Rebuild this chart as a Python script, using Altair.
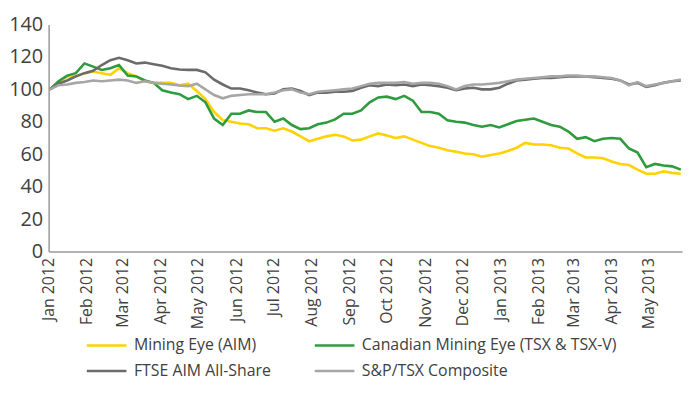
import altair as alt
import pandas as pd

series_names = ["Mining Eye (AIM)", "Canadian Mining Eye (TSX & TSX-V)",
                "FTSE AIM All-Share", "S&P/TSX Composite"]
series_colors = ["#FFD200", "#2E9B3E", "#6B6B6B", "#A6A6A6"]

weeks = pd.date_range("2012-01-02", periods=74, freq="7D")

mining_eye = [100, 104, 108, 108, 110, 111, 110, 109, 113, 110,
              108, 105, 104, 104, 104, 102.5, 103.5, 99, 94, 86,
              81, 80, 79, 78.5, 76, 76, 74.5, 76, 74, 71,
              68, 69.5, 71, 72, 71, 68.5, 69, 71, 72.8, 71.5,
              70, 71, 69, 67, 65, 64, 62.5, 61.5, 60.4, 60,
              58.5, 59.5, 60.4, 62, 64, 67, 66, 66, 65.5, 64,
              63.5, 60.5, 58, 58, 57.5, 55.5, 54, 53.3, 50.5, 48,
              48, 49.4, 48.5, 48]

canadian_eye = [100, 105, 108.5, 110, 116, 114, 112, 113, 115, 108.5,
                108, 105.5, 104, 99.4, 98, 97, 94, 96, 92, 82,
                78, 85, 85, 87, 86, 86, 80, 82, 78, 75.5,
                76, 78.5, 79.5, 81.5, 85, 85, 87, 92, 95, 95.5,
                94, 96, 93, 86, 86, 85, 81, 80, 79.5, 78,
                77, 78, 76.5, 78.5, 80.5, 81.3, 82, 80, 78, 77,
                74, 69.5, 70.5, 68, 69.5, 70, 69.5, 63.5, 61, 52,
                54, 53, 52.5, 50.5]

ftse_aim = [100, 103.5, 105.5, 108, 110, 111.5, 115, 118, 119.5, 118,
            116, 116.5, 115.5, 114.5, 113, 112.2, 112, 112, 110.5, 106,
            103, 100.5, 100.5, 99.4, 98, 97, 97.5, 100, 100.5, 99,
            96.5, 98, 98, 98.5, 98.5, 99, 101, 102.5, 102, 103,
            102.5, 103, 102, 103, 102.5, 102, 101, 99.5, 100.5, 101,
            100, 100, 101, 103.5, 105.5, 106, 106.5, 107, 107, 107.5,
            108, 108, 108, 107.5, 107, 106.5, 105.5, 103, 104, 101.5,
            102.5, 104, 105, 105.5]

sp_tsx = [100, 102.5, 103, 104, 104.5, 105.5, 105, 105.5, 106, 105.5,
          104, 105, 104, 103.5, 103, 102.4, 102, 103.5, 100, 96.5,
          94.5, 96, 96.5, 97, 97, 97, 98, 99.5, 100, 98,
          97, 98.5, 99, 99.5, 100, 100.5, 102, 103.5, 104, 104,
          104, 104.5, 103.5, 104, 104, 103.5, 102, 100, 102, 103,
          103, 103.5, 104, 105, 106, 106.5, 107, 107.5, 108, 108,
          108.5, 108.5, 108, 108, 107.5, 107, 105.5, 102.5, 104.5, 102,
          103, 104, 105, 106]

y_ticks = [0, 20, 40, 60, 80, 100, 120, 140]

rows = []
for name, vals in zip(series_names, [mining_eye, canadian_eye, ftse_aim, sp_tsx]):
    for d, v in zip(weeks, vals):
        rows.append({"date": d, "value": v, "series": name})
df = pd.DataFrame(rows)

FONT = "Open Sans"
TXT = "#404040"

chart = alt.Chart(df).mark_line(strokeWidth=2.6, interpolate="linear").encode(
    x=alt.X("date:T",
            scale=alt.Scale(domain=["2012-01-01T00:00:00", "2013-05-28T00:00:00"]),
            axis=alt.Axis(title=None, format="%b %Y",
                          tickCount={"interval": "month", "step": 1},
                          labelAngle=270, labelFontSize=16, labelColor=TXT,
                          labelFont=FONT, labelPadding=6, ticks=False, grid=False,
                          domainColor="#9A9A9A", domainWidth=1.5,
                          labelOverlap=False, labelFlush=False)),
    y=alt.Y("value:Q",
            scale=alt.Scale(domain=[0, 140], nice=False),
            axis=alt.Axis(title=None, values=y_ticks, labelFontSize=20,
                          labelColor=TXT, labelFont=FONT, labelPadding=6,
                          ticks=False, grid=False, domainColor="#9A9A9A",
                          domainWidth=1.5)),
    color=alt.Color("series:N",
                    scale=alt.Scale(domain=series_names, range=series_colors),
                    sort=series_names,
                    legend=alt.Legend(title=None, orient="none", legendX=47, legendY=312,
                                      columns=2, direction="horizontal",
                                      symbolType="M-2,0L2,0", symbolSize=400,
                                      symbolStrokeWidth=2.6, labelFontSize=16,
                                      labelFont=FONT, labelColor=TXT, labelLimit=500,
                                      columnPadding=38, rowPadding=6,
                                      labelOffset=16)),
    order=alt.Order("series:N")
).properties(width=639, height=229,
             padding={"left": 0, "top": 5, "right": 0, "bottom": 0}
).configure_view(stroke=None)

chart.save("out.html", embed_options={"renderer": "svg", "actions": False})
